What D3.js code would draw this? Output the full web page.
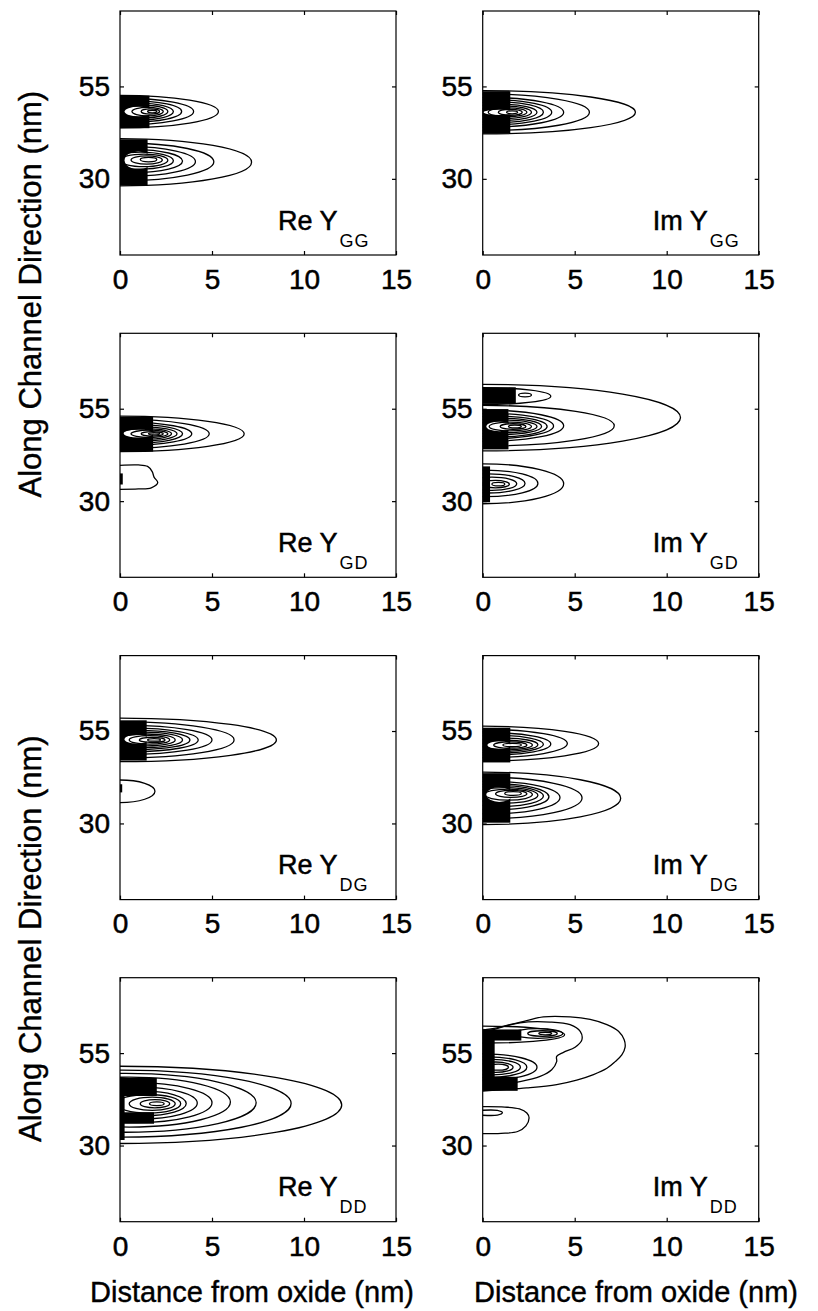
<!DOCTYPE html>
<html><head><meta charset="utf-8">
<script src="https://cdn.jsdelivr.net/npm/d3@7/dist/d3.min.js"></script>
<style>body{margin:0;background:#fff}svg{display:block}</style>
</head><body>
<svg id="c" width="818" height="1311"></svg>
<script>
// ---------- axes ----------
const xDomain = [0, 15];
const yDomain = [9.4, 75.4];
const xTicks = [0, 5, 10, 15];
const yTicks = [30, 55];
const panelNames = [["Re","GG"],["Im","GG"],["Re","GD"],["Im","GD"],["Re","DG"],["Im","DG"],["Re","DD"],["Im","DD"]];
const xLabel = "Distance from oxide (nm)";
const yLabel = "Along Channel Direction (nm)";

// ---------- contour data (nm), ellipses: [cx, cy, rx, ry] ----------
const reYGGContours = [
  [0,48.2,5.35,4.4],[0.2,48.2,3.8,3.6],[0.6,48.2,2.75,2.9],[1.0,48.2,1.9,2.3],[1.3,48.2,1.3,1.7],[1.5,48.2,0.85,1.15],[1.65,48.2,0.5,0.7],[1.75,48.2,0.25,0.35],
  [0,34.5,7.15,6.4],[0.2,34.6,4.9,5.1],[0.5,34.7,3.6,4.0],[0.8,34.8,2.6,3.1],[1.1,34.9,1.8,2.3],[1.3,35.0,1.3,1.7],[1.45,35.1,0.85,1.1],[1.55,35.2,0.45,0.6]
];
const reYGGDense = [[0,43.7,1.6,52.5],[0,28.2,1.5,40.7]];
const reYGGGaps = [[1.0,48.2,0.75,1.3],[1.0,35.0,0.75,2.4]];
const reYGGPaths = [];

const imYGGContours = [
  [0,48.0,8.3,5.85],[0.1,48.0,5.7,4.95],[0.3,48.0,4.1,4.0],[0.5,48.0,3.25,3.4],[0.8,48.0,2.5,2.8],[1.0,48.0,1.95,2.2],[1.2,48.0,1.45,1.7],[1.35,48.0,1.05,1.2],[1.5,48.0,0.65,0.8],[1.6,48.0,0.3,0.4]
];
const imYGGDense = [[0,42.2,1.5,53.7]];
const imYGGGaps = [[0.9,48.0,0.85,0.7]];
const imYGGPaths = [];

const reYGDContours = [
  [0,48.2,6.75,4.8],[0.2,48.2,4.65,3.9],[0.5,48.2,3.4,3.1],[0.9,48.2,2.5,2.5],[1.2,48.2,1.9,1.9],[1.4,48.2,1.4,1.4],[1.6,48.2,1.0,1.0],[1.75,48.2,0.6,0.6],[1.85,48.2,0.3,0.3]
];
const reYGDDense = [[0,43.4,1.8,52.8],[0,34.5,0.15,37.5]];
const reYGDGaps = [[1.0,48.3,0.8,1.1]];
const reYGDPaths = [
  [[0,39.7],[1.0,39.8],[1.5,39.4],[1.75,38.0],[1.85,36.5],[2.05,35.0],[1.7,33.6],[1.0,33.3],[0,33.2]]
];

const imYGDContours = [
  [0,52.6,10.75,9.0],
  [0,58.4,3.7,2.3],[2.3,58.7,0.35,0.5],
  [0,50.4,7.15,5.5],[0.2,50.4,4.2,4.2],[0.5,50.3,3.35,3.4],[0.8,50.2,2.7,2.8],[1.05,50.2,2.15,2.2],[1.3,50.2,1.65,1.7],[1.5,50.2,1.15,1.2],[1.65,50.2,0.7,0.75],[1.75,50.2,0.35,0.4],
  [0,34.7,4.4,5.4],[0.1,34.8,2.9,3.6],[0.3,34.8,2.0,2.6],[0.5,34.7,1.35,1.8],[0.7,34.6,0.75,1.0],[0.85,34.6,0.35,0.45]
];
const imYGDDense = [[0,56.3,1.8,60.8],[0,44.0,1.4,54.9],[0,29.7,0.4,39.4]];
const imYGDGaps = [[0.9,50.2,0.7,1.3]];
const imYGDPaths = [];

const reYDGContours = [
  [0,52.6,8.5,5.9],[0.15,52.6,6.05,4.85],[0.4,52.6,4.6,3.9],[0.7,52.6,3.55,3.2],[1.0,52.6,2.8,2.6],[1.25,52.6,2.15,2.1],[1.45,52.6,1.55,1.6],[1.6,52.6,1.1,1.15],[1.75,52.6,0.7,0.7],[1.85,52.6,0.35,0.35],
  [0,38.7,1.9,3.05]
];
const reYDGDense = [[0,47.0,1.45,57.9],[0,38.4,0.12,40.6]];
const reYDGGaps = [[0.9,52.8,0.65,1.2]];
const reYDGPaths = [];

const imYDGContours = [
  [0,51.6,6.3,4.7],[0.2,51.6,4.4,3.8],[0.5,51.5,3.2,3.0],[0.8,51.4,2.5,2.4],[1.1,51.3,1.9,1.8],[1.3,51.2,1.4,1.3],[1.5,51.2,0.9,0.85],[1.6,51.2,0.5,0.45],
  [0,36.8,7.5,7.1],[0.15,36.9,5.25,5.6],[0.4,37.0,3.8,4.4],[0.7,37.2,2.9,3.5],[1.0,37.4,2.3,2.8],[1.2,37.6,1.8,2.1],[1.4,37.8,1.3,1.5],[1.55,38.0,0.85,0.95],[1.65,38.1,0.45,0.5]
];
const imYDGDense = [[0,46.5,1.5,55.9],[0,30.2,1.5,43.6]];
const imYDGGaps = [[0.9,51.2,0.65,1.0],[0.9,37.8,0.7,2.0]];
const imYDGPaths = [];

const reYDDContours = [
  [0,41.0,12.05,10.45],[0.1,41.35,9.2,9.05],[0.3,41.55,7.1,7.95],[0.5,41.75,5.5,6.75],[0.8,41.6,4.2,5.4],[1.1,41.5,3.1,4.3],[1.35,41.4,2.25,3.3],[1.55,41.3,1.75,2.5],[1.75,41.3,1.25,1.8],[1.9,41.3,0.8,1.1],[2.0,41.3,0.4,0.5]
];
const reYDDDense = [[0,43.4,2.0,48.3],[0,35.9,1.85,39.0],[0,31.5,0.25,48.3]];
const reYDDGaps = [];
const reYDDPaths = [];

const imYDDContours = [
  [0,60.0,4.45,2.3],[3.0,60.3,1.35,1.3],[3.25,60.3,0.8,0.75],[3.4,60.3,0.35,0.35],
  [0,51.2,2.95,3.6],[0.3,51.2,2.1,2.8],[0.5,51.2,1.55,2.1],[0.7,51.2,0.95,1.4],[0.85,51.2,0.55,0.8]
];
const imYDDDense = [[0,58.4,2.1,61.4],[0,44.8,1.9,48.6],[0,44.8,0.65,61.4]];
const imYDDGaps = [];
const imYDDPaths = [
  [[0,61.2],[0.76,61.8],[1.48,62.7],[2.39,63.8],[3.3,64.8],[4.75,64.8],[5.84,64.1],[6.75,62.7],[7.38,60.9],[7.69,58.6],[7.74,56.6],[7.56,54.5],[7.2,52.7],[6.75,50.9],[6.02,49.2],[5.11,47.7],[4.02,46.5],[2.39,45.6],[0.76,45.0],[0,44.7]],
  [[0,60.4],[2.03,63.2],[3.66,63.4],[4.75,62.7],[5.3,60.9],[5.39,58.6],[5.02,56.6],[4.39,55.2],[4.02,54.1],[4.02,52.7],[3.75,50.5],[3.12,48.7],[2.03,47.3],[0.76,46.4],[0,46.1]],
  [[0,40.5],[1.2,40.4],[2.0,39.9],[2.4,38.8],[2.52,37.5],[2.35,35.3],[1.9,33.8],[1.0,33.3],[0,33.2]],
  [[0,39.55],[0.8,39.5],[1.07,38.9],[0.8,38.25],[0,38.2]]
];

const panels = [
  {contours:reYGGContours, dense:reYGGDense, gaps:reYGGGaps, paths:reYGGPaths},
  {contours:imYGGContours, dense:imYGGDense, gaps:imYGGGaps, paths:imYGGPaths},
  {contours:reYGDContours, dense:reYGDDense, gaps:reYGDGaps, paths:reYGDPaths},
  {contours:imYGDContours, dense:imYGDDense, gaps:imYGDGaps, paths:imYGDPaths},
  {contours:reYDGContours, dense:reYDGDense, gaps:reYDGGaps, paths:reYDGPaths},
  {contours:imYDGContours, dense:imYDGDense, gaps:imYDGGaps, paths:imYDGPaths},
  {contours:reYDDContours, dense:reYDDDense, gaps:reYDDGaps, paths:reYDDPaths},
  {contours:imYDDContours, dense:imYDDDense, gaps:imYDDGaps, paths:imYDDPaths}
];

// ---------- layout ----------
const FONT = "'Liberation Sans', Arial, Helvetica, sans-serif";
const colLeft = [120, 482.7];
const rowTop = [11, 333.3, 655.6, 977.7];
const plotW = 276, plotH = 244;
const labelOffX = [158, 170];

const svg = d3.select("#c");
const x = d3.scaleLinear().domain(xDomain).range([0, plotW]);
const y = d3.scaleLinear().domain(yDomain).range([plotH, 0]);
const line = d3.line().x(d => x(d[0])).y(d => y(d[1])).curve(d3.curveCatmullRom.alpha(0.5));

panels.forEach((p, i) => {
  const col = i % 2, row = Math.floor(i / 2);
  const g = svg.append("g").attr("transform", `translate(${colLeft[col]},${rowTop[row]})`);
  const cid = "clip" + i;
  g.append("clipPath").attr("id", cid).append("rect").attr("width", plotW).attr("height", plotH);
  const plot = g.append("g").attr("clip-path", `url(#${cid})`);

  plot.selectAll(null).data(p.dense).join("rect")
    .attr("x", d => x(d[0])).attr("y", d => y(d[3]))
    .attr("width", d => x(d[2]) - x(d[0])).attr("height", d => y(d[1]) - y(d[3]))
    .attr("fill", "#000");
  plot.selectAll(null).data(p.gaps).join("ellipse")
    .attr("cx", d => x(d[0])).attr("cy", d => y(d[1]))
    .attr("rx", d => x(d[2]) - x(0)).attr("ry", d => y(0) - y(d[3]))
    .attr("fill", "#fff");
  plot.selectAll(null).data(p.contours).join("ellipse")
    .attr("cx", d => x(d[0])).attr("cy", d => y(d[1]))
    .attr("rx", d => x(d[2]) - x(0)).attr("ry", d => y(0) - y(d[3]))
    .attr("fill", "none").attr("stroke", "#000").attr("stroke-width", 1.3);
  plot.selectAll(null).data(p.paths).join("path")
    .attr("d", line).attr("fill", "none").attr("stroke", "#000").attr("stroke-width", 1.3);

  // frame
  g.append("rect").attr("width", plotW).attr("height", plotH)
    .attr("fill", "none").attr("stroke", "#000").attr("stroke-width", 1.2);

  const styleAxis = sel => {
    sel.select(".domain").remove();
    sel.attr("font-family", FONT).attr("font-size", 28);
    sel.selectAll("line").attr("stroke", "#000").attr("stroke-width", 1.2);
    sel.selectAll("text").attr("fill", "#000").attr("stroke", "#000").attr("stroke-width", 0.5);
  };
  g.append("g").attr("transform", `translate(0,${plotH})`)
    .call(d3.axisBottom(x).tickValues(xTicks).tickSize(-4).tickPadding(14)).call(styleAxis);
  g.append("g").call(d3.axisTop(x).tickValues(xTicks).tickSize(-4).tickFormat("")).call(styleAxis);
  g.append("g").call(d3.axisLeft(y).tickValues(yTicks).tickSize(-4).tickPadding(10)).call(styleAxis);
  g.append("g").attr("transform", `translate(${plotW},0)`)
    .call(d3.axisRight(y).tickValues(yTicks).tickSize(-4).tickFormat("")).call(styleAxis);

  // panel label
  const t = g.append("text").attr("x", labelOffX[col]).attr("y", 218.5)
    .attr("font-family", FONT).attr("fill", "#000");
  t.append("tspan").attr("font-size", 27).attr("stroke", "#000").attr("stroke-width", 0.5)
    .text(panelNames[i][0] + " Y");
  t.append("tspan").attr("font-size", 18).attr("dx", 2).attr("dy", 17).attr("letter-spacing", 1)
    .text(panelNames[i][1]);
});

// axis titles
[[0,1],[2,3]].forEach(rows => {
  const cy = (rowTop[rows[0]] + rowTop[rows[1]] + plotH) / 2;
  svg.append("text").attr("transform", `translate(41,${cy}) rotate(-90)`)
    .attr("text-anchor", "middle").attr("font-family", FONT).attr("font-size", 31)
    .attr("fill", "#000").attr("stroke", "#000").attr("stroke-width", 0.4).text(yLabel);
});
[252, 636].forEach(cx => {
  svg.append("text").attr("x", cx).attr("y", 1302).attr("text-anchor", "middle")
    .attr("font-family", FONT).attr("font-size", 29)
    .attr("fill", "#000").attr("stroke", "#000").attr("stroke-width", 0.4).text(xLabel);
});
</script>
</body></html>
